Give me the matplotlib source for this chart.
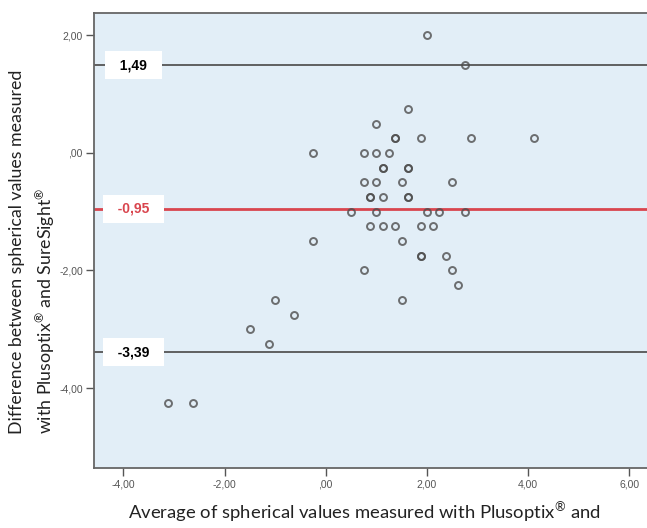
import matplotlib
matplotlib.use("Agg")
import matplotlib.pyplot as plt

# Bland-Altman data: average (x) vs difference (y)
avg_vals = [2.0, 2.75, 1.625, 1.0, 1.375, 1.375, 1.875, 2.875, 4.125,
            -0.25, 0.75, 1.0, 1.25, 1.125, 1.125, 1.625, 1.625,
            0.75, 1.0, 1.5, 2.5, 0.875, 0.875, 1.125, 1.625, 1.625,
            0.5, 1.0, 2.0, 2.25, 2.75, 0.875, 1.125, 1.375, 1.875, 2.125,
            -0.25, 1.5, 1.875, 1.875, 2.375, 0.75, 2.5, 2.625,
            -1.0, 1.5, -0.625, -1.5, -1.125, -3.125, -2.625]
diff_vals = [2.0, 1.5, 0.75, 0.5, 0.25, 0.25, 0.25, 0.25, 0.25,
             0.0, 0.0, 0.0, 0.0, -0.25, -0.25, -0.25, -0.25,
             -0.5, -0.5, -0.5, -0.5, -0.75, -0.75, -0.75, -0.75, -0.75,
             -1.0, -1.0, -1.0, -1.0, -1.0, -1.25, -1.25, -1.25, -1.25, -1.25,
             -1.5, -1.5, -1.75, -1.75, -1.75, -2.0, -2.0, -2.25,
             -2.5, -2.5, -2.75, -3.0, -3.25, -4.25, -4.25]

mean_diff = -0.95
upper_loa = 1.49
lower_loa = -3.39

x_ticks = [-4, -2, 0, 2, 4, 6]
x_labels = ["-4,00", "-2,00", ",00", "2,00", "4,00", "6,00"]
y_ticks = [-4, -2, 0, 2]
y_labels = ["-4,00", "-2,00", ",00", "2,00"]

sup = "$^\\mathregular{®}$"
xlabel = "Average of spherical values measured with Plusoptix" + sup + " and"
ylabel = ("Difference between spherical values measured\n"
          "with Plusoptix" + sup + " and SureSight" + sup)

plt.rcParams["mathtext.fontset"] = "custom"
plt.rcParams["mathtext.rm"] = "Lato"

fig = plt.figure(figsize=(6.47, 5.28), dpi=100)
ax = fig.add_axes([94 / 647, 60 / 528, 1.01 - 94 / 647, 455 / 528])
ax.set_facecolor("#E2EEF7")

line_col = "#555555"
red_col = "#D9454E"

ax.axhline(upper_loa, color=line_col, lw=1.3, zorder=1)
ax.axhline(lower_loa, color=line_col, lw=1.3, zorder=1)
ax.axhline(mean_diff, color=red_col, lw=2.0, zorder=1)

ax.plot(avg_vals, diff_vals, "o", ms=5.0, mfc="none", mec="#4d4d4d",
        mew=1.4, alpha=0.8, zorder=3)

# value labels on the lines
lbl_x = -3.8
for val, col in [(upper_loa, "black"), (mean_diff, red_col), (lower_loa, "black")]:
    txt = ("  %.2f  " % val).replace(".", ",")
    ax.text(lbl_x, val, txt, ha="center", va="center", color=col,
            fontsize=10, fontweight="bold", family="Liberation Sans",
            bbox=dict(boxstyle="square,pad=0.5", fc="white", ec="none"),
            zorder=4)

ax.set_xlim(-4.58, 6.48)
ax.set_ylim(-5.36, 2.38)
ax.set_xticks(x_ticks)
ax.set_xticklabels(x_labels)
ax.set_yticks(y_ticks)
ax.set_yticklabels(y_labels)
ax.tick_params(labelsize=7.5, colors="#555555", length=6, width=1.0,
               labelcolor="#555555", pad=2)
for lab in ax.get_xticklabels() + ax.get_yticklabels():
    lab.set_family("Liberation Sans")
for side in ["left", "bottom", "top"]:
    ax.spines[side].set_color("#666666")
    ax.spines[side].set_linewidth(1.3)
ax.spines["right"].set_visible(False)

fig.text(364 / 647, 1 - 513 / 528, xlabel, ha="center", va="center",
         fontsize=13.3, family="Lato", color="#222222")
fig.text(33 / 647, 1 - 252 / 528, ylabel, ha="center", va="center",
         rotation=90, fontsize=12.8, family="Lato", color="#222222",
         multialignment="left", linespacing=1.45)

fig.savefig("out.png", dpi=100)
